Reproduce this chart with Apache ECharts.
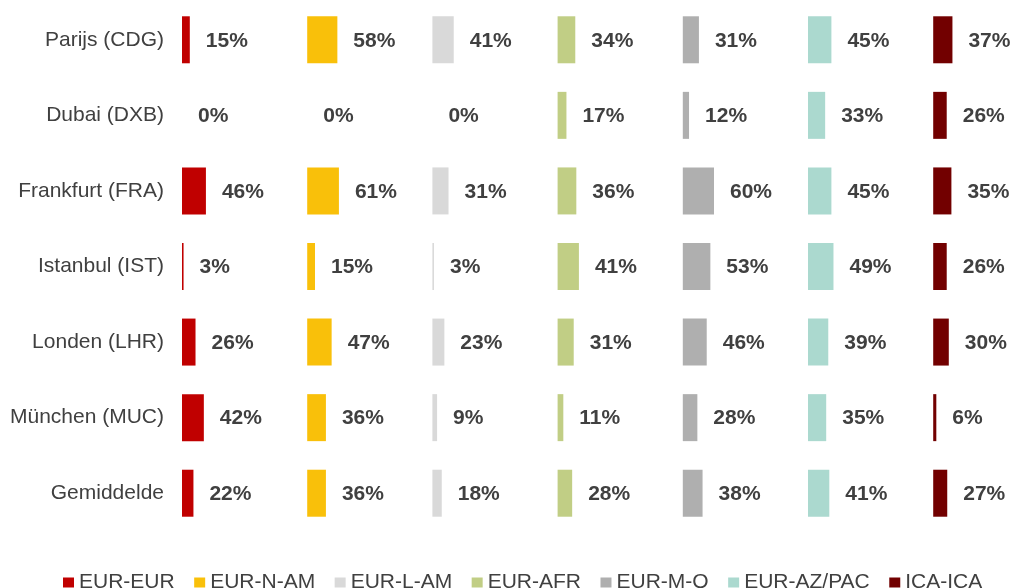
<!DOCTYPE html>
<html>
<head>
<meta charset="utf-8">
<script src="https://cdn.jsdelivr.net/npm/echarts@6/dist/echarts.min.js"></script>
<style>
  html, body { margin: 0; padding: 0; background: #fff; }
  #main { width: 1012px; height: 588px; }
</style>
</head>
<body>
<div id="main"></div>
<script>
const airports = ['Parijs (CDG)', 'Dubai (DXB)', 'Frankfurt (FRA)', 'Istanbul (IST)', 'Londen (LHR)', 'München (MUC)', 'Gemiddelde'];
const routes = ['EUR-EUR', 'EUR-N-AM', 'EUR-L-AM', 'EUR-AFR', 'EUR-M-O', 'EUR-AZ/PAC', 'ICA-ICA'];
const colors = ['#C00000', '#F9C00A', '#D9D9D9', '#C1CE85', '#AFAFAF', '#ABD9CF', '#720000'];

const eurEur   = [15, 0, 46, 3, 26, 42, 22];
const eurNAm   = [58, 0, 61, 15, 47, 36, 36];
const eurLAm   = [41, 0, 31, 3, 23, 9, 18];
const eurAfr   = [34, 17, 36, 41, 31, 11, 28];
const eurMO    = [31, 12, 60, 53, 46, 28, 38];
const eurAzPac = [45, 33, 45, 49, 39, 35, 41];
const icaIca   = [37, 26, 35, 26, 30, 6, 27];

const seriesData = [eurEur, eurNAm, eurLAm, eurAfr, eurMO, eurAzPac, icaIca];

const font = 'Liberation Sans, Arial, sans-serif';
const textColor = '#404040';

const chart = echarts.init(document.getElementById('main'));

const grids = [], xAxes = [], yAxes = [], series = [];
routes.forEach((name, i) => {
  grids.push({ left: 182 + i * 125.2, width: 52, top: 2, height: 529 });
  xAxes.push({ gridIndex: i, type: 'value', min: 0, max: 100, show: false });
  yAxes.push({
    gridIndex: i,
    type: 'category',
    inverse: true,
    data: airports,
    axisLine: { show: false },
    axisTick: { show: false },
    axisLabel: { show: i === 0, margin: 18, fontSize: 21, color: textColor, fontFamily: font }
  });
  series.push({
    name: name,
    type: 'bar',
    xAxisIndex: i,
    yAxisIndex: i,
    data: seriesData[i],
    barWidth: 47,
    itemStyle: { color: colors[i] },
    label: {
      show: true,
      position: 'right',
      distance: 16,
      offset: [0, 1],
      formatter: '{c}%',
      fontSize: 21,
      fontWeight: 'bold',
      color: textColor,
      fontFamily: font
    }
  });
});

chart.setOption({
  animation: false,
  grid: grids,
  xAxis: xAxes,
  yAxis: yAxes,
  legend: {
    data: routes,
    left: 58,
    top: 567,
    itemWidth: 11,
    itemHeight: 10,
    itemGap: 19.5,
    icon: 'rect',
    textStyle: { fontSize: 21, color: textColor, fontFamily: font }
  },
  series: series
});
</script>
</body>
</html>
